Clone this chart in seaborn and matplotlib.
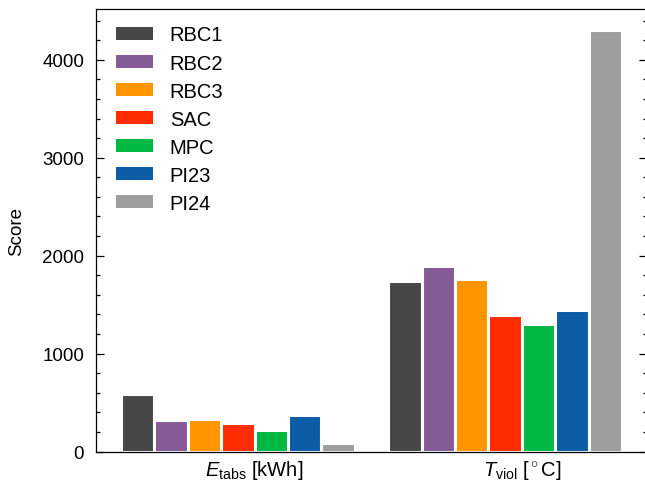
import matplotlib
matplotlib.use("Agg")
import matplotlib.pyplot as plt
from matplotlib.ticker import MultipleLocator
import seaborn as sns
import pandas as pd

metrics = [r"$E_\mathrm{tabs}$ [kWh]", r"$T_\mathrm{viol}$ [$^\circ$C]"]
controllers = ["RBC1", "RBC2", "RBC3", "SAC", "MPC", "PI23", "PI24"]
e_tabs = [590, 324, 335, 287, 219, 372, 90]
t_viol = [1740, 1896, 1760, 1396, 1297, 1440, 4300]
colors = ["#474747", "#845B97", "#FF9500", "#FF2C00", "#00B945", "#0C5DA5", "#9E9E9E"]

rows = []
for c, e, t in zip(controllers, e_tabs, t_viol):
    rows.append({"metric": metrics[0], "controller": c, "score": e})
    rows.append({"metric": metrics[1], "controller": c, "score": t})
df = pd.DataFrame(rows)

sns.set_style("ticks")
plt.rcParams["font.family"] = ["Liberation Sans", "DejaVu Sans"]
plt.rcParams["mathtext.fontset"] = "custom"
plt.rcParams["mathtext.rm"] = "Liberation Sans"
plt.rcParams["mathtext.it"] = "Liberation Sans:italic"
plt.rcParams["mathtext.bf"] = "Liberation Sans:bold"
for k in ["text.color", "axes.labelcolor", "xtick.color", "ytick.color", "axes.edgecolor"]:
    plt.rcParams[k] = "black"

fig = plt.figure(figsize=(6.45, 4.85), dpi=100)
ax = fig.add_axes([96 / 645, 32.5 / 485, 551 / 645, 442.2 / 485])

sns.barplot(data=df, x="metric", y="score", hue="controller", order=metrics,
            hue_order=controllers, palette=colors, width=0.875, saturation=1,
            edgecolor="white", linewidth=2.2, ax=ax)

ax.set_xlim(-0.53125, 1.53125)
ax.set_ylim(0, 4515)
ax.set_xlabel("")
# category labels sit half a bar to the right of the group centre, as in the reference
ax.set_xticks([0.0625, 1.0625], metrics)
ax.set_ylabel("Score", fontsize=13.5, labelpad=12)
ax.yaxis.set_major_locator(MultipleLocator(1000))
ax.yaxis.set_minor_locator(MultipleLocator(200))
ax.tick_params(axis="y", which="both", direction="in", left=True, right=True,
               labelsize=13.5, width=0.9, color="black", pad=8.5)
ax.tick_params(axis="y", which="major", length=5.5)
ax.tick_params(axis="y", which="minor", length=2.8)
ax.tick_params(axis="x", which="both", length=0, labelsize=14.5, pad=5)
for s in ax.spines.values():
    s.set_linewidth(0.9)
    s.set_color("black")
    s.set_visible(True)

handles, labels = ax.get_legend_handles_labels()
for h in handles:
    h.set_edgecolor("none")
ax.legend(handles, labels, loc="upper left", bbox_to_anchor=(0.0357, 0.9635),
          frameon=False, fontsize=14.5, handlelength=1.84, handleheight=0.6,
          handletextpad=0.85, labelspacing=0.45, borderaxespad=0, borderpad=0)

fig.savefig("out.png", dpi=100)
